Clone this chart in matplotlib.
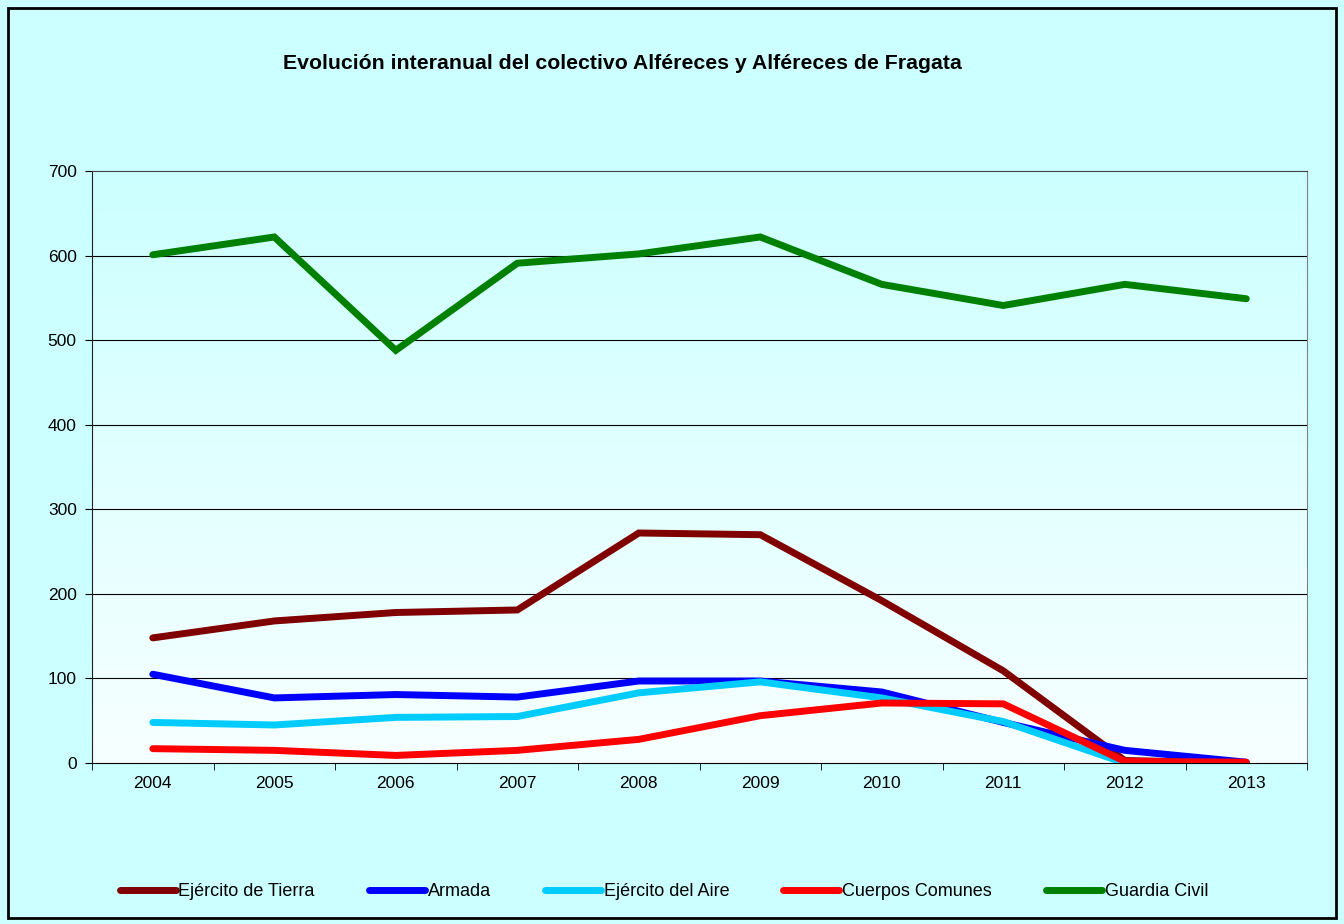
import numpy as np
import matplotlib
matplotlib.use("Agg")
import matplotlib.pyplot as plt
from matplotlib.patches import Rectangle
from matplotlib.colors import LinearSegmentedColormap

plt.rcParams['font.family'] = ['Liberation Sans', 'DejaVu Sans']

# Data
# -------------------------
years = ['2004', '2005', '2006', '2007', '2008', '2009', '2010', '2011', '2012', '2013']
tierra = [148, 168, 178, 181, 272, 270, 192, 109, 3, 0]
armada = [105, 77, 81, 78, 97, 97, 84, 48, 15, 1]
aire = [48, 45, 54, 55, 83, 96, 77, 49, 0, 0]
comunes = [17, 15, 9, 15, 28, 56, 71, 70, 2, 1]
guardia = [601, 622, 488, 591, 602, 622, 566, 541, 566, 549]

series = [
    ('Ejército de Tierra', tierra, '#800000'),
    ('Armada', armada, '#0000FF'),
    ('Ejército del Aire', aire, '#00CCFF'),
    ('Cuerpos Comunes', comunes, '#FF0000'),
    ('Guardia Civil', guardia, '#008000'),
]

fig = plt.figure(figsize=(13.44, 9.24), dpi=100)
fig.patch.set_facecolor('#CCFFFF')

# outer frame
fig.patches.append(Rectangle((0.006, 0.006), 0.988, 0.985, transform=fig.transFigure,
                             fill=False, edgecolor='black', linewidth=2))

ax = fig.add_axes([0.0685, 0.1742, 0.904, 0.6407])
x = np.arange(len(years))

# gradient background of the plot area
grad = LinearSegmentedColormap.from_list('bg', ['#F7FFFF', '#CCFFFF'])
ax.imshow(np.linspace(0, 1, 256).reshape(-1, 1), cmap=grad, origin='lower',
          extent=[0, 1, 0, 1], transform=ax.transAxes, aspect='auto', zorder=0)

for yv in range(100, 700, 100):
    ax.axhline(yv, color='black', linewidth=0.8, zorder=1)

for name, vals, col in series:
    ax.plot(x, vals, color=col, linewidth=5, solid_capstyle='round',
            solid_joinstyle='miter', label=name, zorder=3)

ax.set_xlim(-0.5, len(years) - 0.5)
ax.set_ylim(0, 700)
ax.set_yticks(range(0, 701, 100))
ax.set_xticks(x)
ax.set_xticklabels(years)
ax.set_xticks(np.arange(-0.5, len(years), 1), minor=True)
ax.tick_params(axis='x', which='major', length=0, labelsize=12.5, pad=9)
ax.tick_params(axis='x', which='minor', length=5, direction='out', color='black')
ax.tick_params(axis='y', length=5, direction='out', labelsize=12.5, pad=6)

ax.spines['left'].set_color('#202020')
ax.spines['bottom'].set_color('black')
ax.spines['top'].set_color('#404040')
ax.spines['right'].set_color('#808080')

fig.text(0.463, 0.931, 'Evolución interanual del colectivo Alféreces y Alféreces de Fragata',
         ha='center', va='center', fontsize=15.3, fontweight='bold')

fig.legend(loc='center', bbox_to_anchor=(0.494, 0.035), ncol=5, frameon=False,
           fontsize=13, handlelength=3.1, handletextpad=0.15, columnspacing=3.0)

plt.savefig('out.png', dpi=100, facecolor=fig.get_facecolor())
